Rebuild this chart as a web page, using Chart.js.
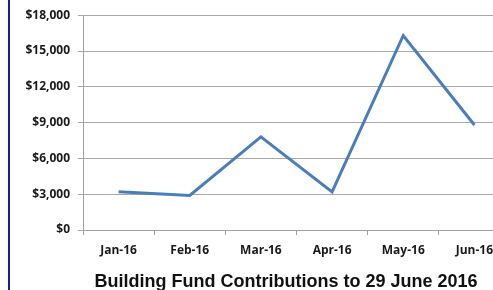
<!DOCTYPE html>
<html>
<head>
<meta charset="utf-8">
<script src="https://cdn.jsdelivr.net/npm/chart.js@4"></script>
<style>
  html, body { margin: 0; padding: 0; background: #ffffff; overflow: hidden; width: 493px; height: 290px; }
  #wrap { position: absolute; left: 0; top: 0; width: 530px; height: 290px; }
  #border { position: absolute; left: 8px; top: 0; width: 2px; height: 290px; background: #1a1aa0; }
</style>
</head>
<body>
<div id="wrap"><canvas id="c" width="530" height="290"></canvas></div>
<div id="border"></div>
<script>
const categories = ["Jan-16", "Feb-16", "Mar-16", "Apr-16", "May-16", "Jun-16"];
const contributions = [3200, 2900, 7800, 3200, 16300, 8800];
const yTicks = [0, 3000, 6000, 9000, 12000, 15000, 18000];
const titleText = "Building Fund Contributions to 29 June 2016";

const tickFont = { family: "'Open Sans', sans-serif", size: 12, weight: "bold" };

const bottomTitle = {
  id: "bottomTitle",
  afterDraw(chart) {
    const ctx = chart.ctx;
    ctx.save();
    ctx.font = "bold 18px 'Liberation Sans', Arial, sans-serif";
    ctx.fillStyle = "#111111";
    ctx.textAlign = "center";
    ctx.textBaseline = "alphabetic";
    ctx.fillText(titleText, 286, 287);
    ctx.restore();
  }
};

new Chart(document.getElementById("c"), {
  type: "line",
  data: {
    labels: categories,
    datasets: [{
      data: contributions,
      borderColor: "#4a7ebb",
      borderWidth: 3,
      pointRadius: 0,
      tension: 0,
      fill: false
    }]
  },
  plugins: [bottomTitle],
  options: {
    responsive: false,
    animation: false,
    layout: { padding: { top: 15, right: 20, left: 0, bottom: 22 } },
    plugins: {
      legend: { display: false },
      tooltip: { enabled: false },
      title: { display: false }
    },
    scales: {
      x: {
        offset: true,
        grid: { offset: true, drawOnChartArea: false, color: "#a0a0a0", tickLength: 5 },
        border: { display: true, color: "#a0a0a0" },
        ticks: { color: "#1a1a1a", font: tickFont, padding: 8, maxRotation: 0, autoSkip: false },
        afterFit: (s) => { s.height = 290 - 230 - 22; }
      },
      y: {
        min: 0,
        max: 18000,
        afterBuildTicks: (s) => { s.ticks = yTicks.map(v => ({ value: v })); },
        grid: { color: "#a8a8a8", tickLength: 5 },
        border: { display: true, color: "#a0a0a0" },
        ticks: {
          color: "#1a1a1a",
          font: tickFont,
          padding: 8,
          callback: (v) => "$" + Number(v).toLocaleString("en-US")
        },
        afterFit: (s) => { s.width = 83; }
      }
    }
  }
});
</script>
</body>
</html>
